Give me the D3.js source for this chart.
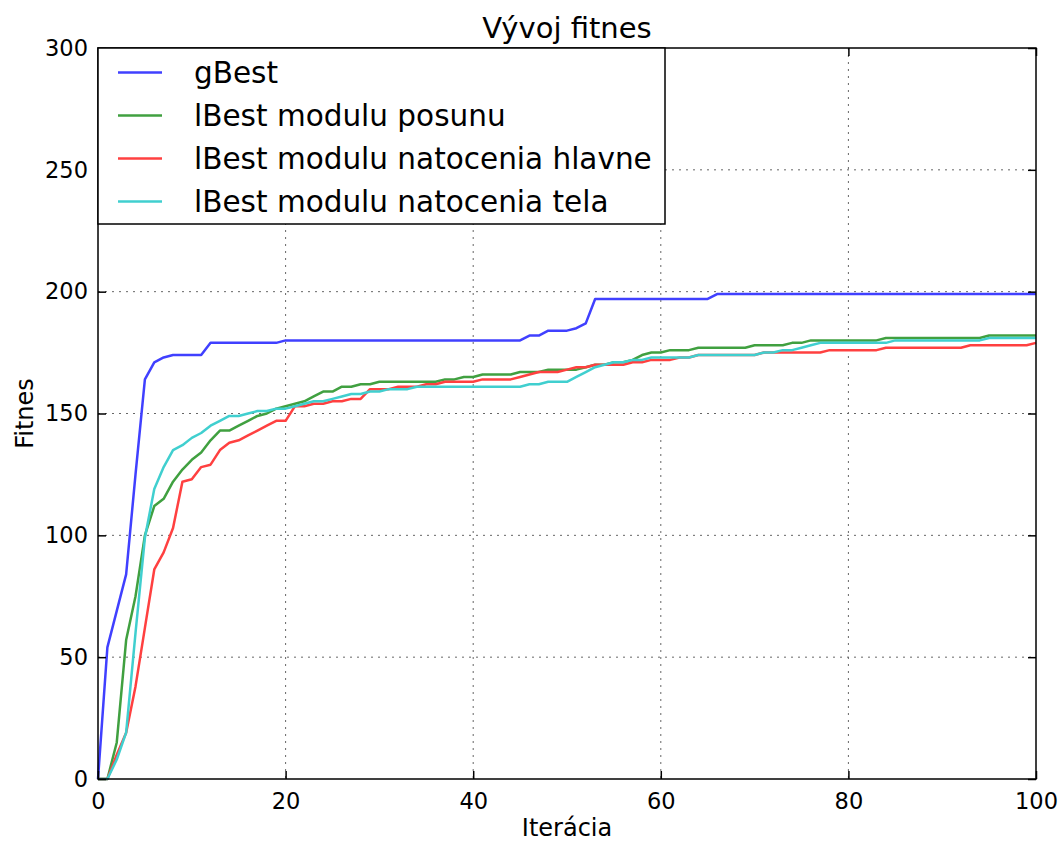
<!DOCTYPE html>
<html>
<head>
<meta charset="utf-8">
<script src="https://cdn.jsdelivr.net/npm/d3@7"></script>
<style>
  body { margin: 0; background: #fff; }
  text { font-family: "DejaVu Sans", sans-serif; fill: #000; }
</style>
</head>
<body>
<div id="chart"></div>
<script>
// iterations 0..100
var iterations = d3.range(0, 101);

var seriesNames = ["gBest", "lBest modulu posunu", "lBest modulu natocenia hlavne", "lBest modulu natocenia tela"];
var seriesColors = ["#4040ff", "#40a040", "#ff4040", "#40cfcf"];

var gBest = [
  0, 54, 69, 84, 125, 164, 171, 173, 174, 174, 174,
  174, 179, 179, 179, 179, 179, 179, 179, 179, 180,
  180, 180, 180, 180, 180, 180, 180, 180, 180, 180,
  180, 180, 180, 180, 180, 180, 180, 180, 180, 180,
  180, 180, 180, 180, 180, 182, 182, 184, 184, 184,
  185, 187, 197, 197, 197, 197, 197, 197, 197, 197,
  197, 197, 197, 197, 197, 199, 199, 199, 199, 199,
  199, 199, 199, 199, 199, 199, 199, 199, 199, 199,
  199, 199, 199, 199, 199, 199, 199, 199, 199, 199,
  199, 199, 199, 199, 199, 199, 199, 199, 199, 199
];

var lBestPosun = [
  0, 0, 15, 57, 75, 100, 112, 115, 122, 127, 131,
  134, 139, 143, 143, 145, 147, 149, 150, 152, 153,
  154, 155, 157, 159, 159, 161, 161, 162, 162, 163,
  163, 163, 163, 163, 163, 163, 164, 164, 165, 165,
  166, 166, 166, 166, 167, 167, 167, 168, 168, 168,
  168, 169, 170, 170, 171, 171, 172, 174, 175, 175,
  176, 176, 176, 177, 177, 177, 177, 177, 177, 178,
  178, 178, 178, 179, 179, 180, 180, 180, 180, 180,
  180, 180, 180, 181, 181, 181, 181, 181, 181, 181,
  181, 181, 181, 181, 182, 182, 182, 182, 182, 182
];

var lBestHlaven = [
  0, 0, 10, 19, 38, 62, 86, 93, 103, 122, 123,
  128, 129, 135, 138, 139, 141, 143, 145, 147, 147,
  153, 153, 154, 154, 155, 155, 156, 156, 160, 160,
  160, 161, 161, 161, 162, 162, 163, 163, 163, 163,
  164, 164, 164, 164, 165, 166, 167, 167, 167, 168,
  169, 169, 170, 170, 170, 170, 171, 171, 172, 172,
  172, 173, 173, 174, 174, 174, 174, 174, 174, 174,
  175, 175, 175, 175, 175, 175, 175, 176, 176, 176,
  176, 176, 176, 177, 177, 177, 177, 177, 177, 177,
  177, 177, 178, 178, 178, 178, 178, 178, 178, 179
];

var lBestTelo = [
  0, 0, 8, 19, 60, 99, 119, 128, 135, 137, 140,
  142, 145, 147, 149, 149, 150, 151, 151, 152, 152,
  153, 154, 155, 155, 156, 157, 158, 158, 159, 159,
  160, 160, 160, 161, 161, 161, 161, 161, 161, 161,
  161, 161, 161, 161, 161, 162, 162, 163, 163, 163,
  165, 167, 169, 170, 171, 171, 172, 172, 173, 173,
  173, 173, 173, 174, 174, 174, 174, 174, 174, 174,
  175, 175, 176, 176, 177, 178, 179, 179, 179, 179,
  179, 179, 179, 179, 180, 180, 180, 180, 180, 180,
  180, 180, 180, 180, 181, 181, 181, 181, 181, 181
];

var xTicks = [0, 20, 40, 60, 80, 100];
var yTicks = [0, 50, 100, 150, 200, 250, 300];

var allSeries = [gBest, lBestPosun, lBestHlaven, lBestTelo];

// svg size and plot margins
var svgWidth = 1062;
var svgHeight = 843;
var margin = { top: 48, right: 26, bottom: 64, left: 98 };
var plotWidth = svgWidth - margin.left - margin.right;
var plotHeight = svgHeight - margin.top - margin.bottom;

var svg = d3.select("#chart")
  .append("svg")
  .attr("width", svgWidth)
  .attr("height", svgHeight);

var g = svg.append("g")
  .attr("transform", `translate(${margin.left}, ${margin.top})`);

var x = d3.scaleLinear().domain([0, 100]).range([0, plotWidth]);
var y = d3.scaleLinear().domain([0, 300]).range([plotHeight, 0]);

// dotted grid
g.selectAll(".vgrid")
  .data(xTicks.slice(1, -1))
  .enter()
  .append("line")
  .attr("x1", d => x(d)).attr("x2", d => x(d))
  .attr("y1", 0).attr("y2", plotHeight)
  .attr("stroke", "#666")
  .attr("stroke-width", 1)
  .attr("stroke-dasharray", "2,5");

g.selectAll(".hgrid")
  .data(yTicks.slice(1, -1))
  .enter()
  .append("line")
  .attr("x1", 0).attr("x2", plotWidth)
  .attr("y1", d => y(d)).attr("y2", d => y(d))
  .attr("stroke", "#666")
  .attr("stroke-width", 1)
  .attr("stroke-dasharray", "2,5");

// lines
var line = d3.line()
  .x((d, i) => x(iterations[i]))
  .y(d => y(d));

g.selectAll(".series")
  .data(allSeries)
  .enter()
  .append("path")
  .attr("d", d => line(d))
  .attr("fill", "none")
  .attr("stroke", (d, i) => seriesColors[i])
  .attr("stroke-width", 2.5)
  .attr("stroke-linejoin", "round");

// axes, ticks point inwards on all four sides
var tickLen = 8;
g.append("g")
  .attr("transform", `translate(0, ${plotHeight})`)
  .call(d3.axisBottom(x).tickValues(xTicks).tickSizeInner(-tickLen).tickSizeOuter(0).tickPadding(14))
  .call(a => a.select(".domain").remove());
g.append("g")
  .call(d3.axisTop(x).tickValues(xTicks).tickSizeInner(-tickLen).tickSizeOuter(0).tickFormat(""))
  .call(a => a.select(".domain").remove());
g.append("g")
  .call(d3.axisLeft(y).tickValues(yTicks).tickSizeInner(-tickLen).tickSizeOuter(0).tickPadding(10))
  .call(a => a.select(".domain").remove());
g.append("g")
  .attr("transform", `translate(${plotWidth}, 0)`)
  .call(d3.axisRight(y).tickValues(yTicks).tickSizeInner(-tickLen).tickSizeOuter(0).tickFormat(""))
  .call(a => a.select(".domain").remove());

g.selectAll(".tick line").attr("stroke", "#000").attr("stroke-width", 1.5);
g.selectAll(".tick text")
  .style("font-family", "DejaVu Sans")
  .style("font-size", "22.5px")
  .attr("fill", "#000");

// frame
g.append("rect")
  .attr("width", plotWidth)
  .attr("height", plotHeight)
  .attr("fill", "none")
  .attr("stroke", "#000")
  .attr("stroke-width", 1.5);

// legend
var legend = g.append("g");
legend.append("rect")
  .attr("x", 0).attr("y", 0)
  .attr("width", 567).attr("height", 176)
  .attr("fill", "#fff")
  .attr("stroke", "#000")
  .attr("stroke-width", 1.5);

var items = legend.selectAll(".item")
  .data(seriesNames)
  .enter()
  .append("g")
  .attr("transform", (d, i) => `translate(0, ${24.5 + i * 43})`);

items.append("line")
  .attr("x1", 20).attr("x2", 64)
  .attr("stroke", (d, i) => seriesColors[i])
  .attr("stroke-width", 2.5);

items.append("text")
  .attr("x", 96)
  .attr("dy", "0.36em")
  .style("font-size", "29.5px")
  .text(d => d);

// titles
svg.append("text")
  .attr("x", margin.left + plotWidth / 2)
  .attr("y", 38)
  .attr("text-anchor", "middle")
  .style("font-size", "29px")
  .text("Vývoj fitnes");

svg.append("text")
  .attr("x", margin.left + plotWidth / 2)
  .attr("y", 836)
  .attr("text-anchor", "middle")
  .style("font-size", "24px")
  .text("Iterácia");

svg.append("text")
  .attr("transform", `translate(33, ${margin.top + plotHeight / 2}) rotate(-90)`)
  .attr("text-anchor", "middle")
  .style("font-size", "24px")
  .text("Fitnes");
</script>
</body>
</html>
